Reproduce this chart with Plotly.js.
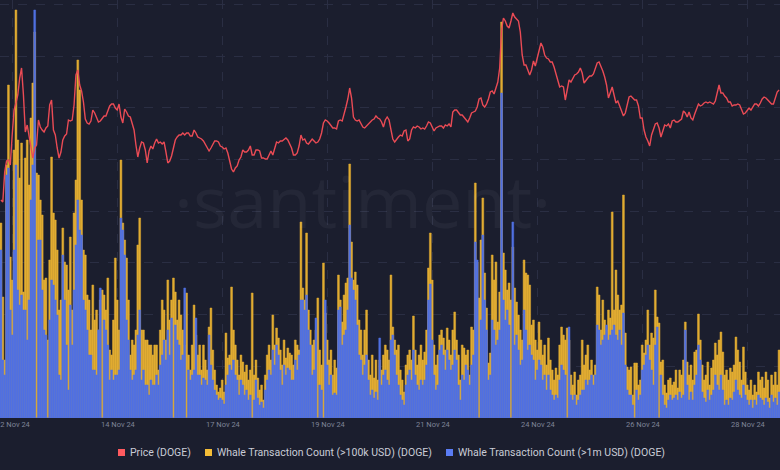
<!DOCTYPE html>
<html>
<head>
<meta charset="utf-8">
<script src="https://cdn.plot.ly/plotly-3.0.1.min.js"></script>
<style>
  html, body { margin: 0; padding: 0; background: #1b1e2e; }
  #chart { width: 780px; height: 470px; }
</style>
</head>
<body>
<div id="chart"></div>
<script>
// hourly DOGE price, ~12 Nov 24 -> 29 Nov 24
const priceDoge = [
  0.4000,0.3990,0.4140,0.4195,0.4200,0.4175,0.4325,0.4450,0.4485,0.4525,0.4610,0.4660,0.4525,0.4340,0.4375,0.4320,0.4250,0.4210,0.4260,0.4275,
  0.4400,0.4365,0.4350,0.4340,0.4360,0.4370,0.4475,0.4500,0.4350,0.4325,0.4260,0.4210,0.4240,0.4300,0.4320,0.4330,0.4400,0.4395,0.4400,0.4475,
  0.4625,0.4650,0.4575,0.4545,0.4490,0.4405,0.4385,0.4380,0.4395,0.4450,0.4435,0.4415,0.4390,0.4395,0.4405,0.4420,0.4420,0.4450,0.4470,0.4480,
  0.4480,0.4460,0.4450,0.4480,0.4415,0.4385,0.4455,0.4440,0.4420,0.4415,0.4385,0.4350,0.4275,0.4215,0.4260,0.4290,0.4285,0.4250,0.4185,0.4245,0.4270,0.4255,0.4285,
  0.4305,0.4285,0.4290,0.4280,0.4290,0.4240,0.4185,0.4195,0.4220,0.4260,0.4300,0.4315,0.4325,0.4325,0.4335,0.4325,0.4335,0.4335,0.4320,0.4320,
  0.4350,0.4335,0.4315,0.4310,0.4305,0.4295,0.4280,0.4265,0.4245,0.4260,0.4275,0.4295,0.4295,0.4290,0.4270,0.4265,0.4255,0.4260,0.4235,0.4185,
  0.4155,0.4140,0.4160,0.4170,0.4200,0.4215,0.4250,0.4240,0.4240,0.4250,0.4270,0.4225,0.4225,0.4250,0.4250,0.4245,0.4210,0.4210,0.4205,0.4205,
  0.4230,0.4245,0.4225,0.4255,0.4290,0.4285,0.4295,0.4295,0.4305,0.4310,0.4300,0.4280,0.4260,0.4225,0.4225,0.4235,0.4270,0.4325,0.4300,0.4305,0.4285,0.4280,0.4295,
  0.4305,0.4295,0.4285,0.4290,0.4305,0.4335,0.4385,0.4400,0.4395,0.4385,0.4370,0.4360,0.4360,0.4355,0.4395,0.4400,0.4395,0.4425,0.4465,0.4505,
  0.4560,0.4510,0.4415,0.4400,0.4395,0.4400,0.4380,0.4365,0.4360,0.4370,0.4385,0.4390,0.4400,0.4405,0.4420,0.4410,0.4405,0.4390,0.4365,0.4400,0.4415,0.4400,
  0.4345,0.4305,0.4290,0.4305,0.4315,0.4325,0.4320,0.4345,0.4350,0.4295,0.4305,0.4350,0.4365,0.4360,0.4370,0.4365,0.4355,0.4360,0.4355,0.4370,0.4390,0.4385,
  0.4360,0.4345,0.4360,0.4365,0.4370,0.4370,0.4360,0.4375,0.4370,0.4380,0.4365,0.4440,0.4450,0.4450,0.4440,0.4425,0.4425,0.4415,0.4405,0.4390,
  0.4410,0.4435,0.4440,0.4445,0.4465,0.4505,0.4510,0.4475,0.4465,0.4480,0.4505,0.4540,0.4545,0.4530,0.4560,0.4590,0.4660,0.4850,0.4910,0.4895,0.4870,0.4860,0.4895,
  0.4935,0.4915,0.4905,0.4895,0.4840,0.4725,0.4675,0.4675,0.4650,0.4625,0.4650,0.4695,0.4670,0.4710,0.4760,0.4785,0.4765,0.4725,0.4710,0.4705,0.4690,0.4690,0.4665,
  0.4630,0.4590,0.4565,0.4570,0.4565,0.4500,0.4560,0.4600,0.4590,0.4610,0.4625,0.4630,0.4640,0.4660,0.4635,0.4585,0.4600,0.4610,0.4620,0.4620,0.4630,0.4660,
  0.4685,0.4690,0.4670,0.4645,0.4615,0.4575,0.4510,0.4540,0.4565,0.4525,0.4485,0.4495,0.4470,0.4435,0.4420,
  0.4435,0.4480,0.4515,0.4520,0.4510,0.4500,0.4500,0.4470,0.4410,0.4410,0.4350,0.4315,0.4295,0.4270,0.4325,0.4355,0.4380,0.4385,0.4360,0.4315,
  0.4345,0.4375,0.4370,0.4380,0.4360,0.4395,0.4400,0.4390,0.4390,0.4400,0.4405,0.4445,0.4435,0.4415,0.4440,0.4410,0.4400,0.4430,0.4460,0.4480,0.4470,0.4475,
  0.4485,0.4490,0.4485,0.4490,0.4485,0.4480,0.4495,0.4535,0.4575,0.4535,0.4535,0.4520,0.4510,0.4490,0.4490,0.4470,0.4475,0.4475,0.4480,0.4475,0.4455,
  0.4430,0.4435,0.4450,0.4460,0.4450,0.4465,0.4480,0.4480,0.4470,0.4485,0.4505,0.4515,0.4510,0.4500,0.4490,0.4480,0.4480,0.4515,0.4540,0.4550
];

// whale transactions > 100k USD per hour
const whale100k = [
  195,121,58,253,333,161,138,268,408,278,240,275,126,260,278,233,300,335,386,
  245,243,218,203,138,140,78,158,261,205,198,168,108,118,190,156,153,128,181,108,205,238,
  358,328,218,168,163,123,118,88,133,98,108,88,118,128,123,108,140,68,63,98,160,118,88,
  258,195,178,160,118,63,78,73,88,173,200,88,88,78,78,73,73,63,73,
  73,48,88,118,108,78,138,98,118,140,126,98,118,103,88,73,125,63,48,73,113,83,63,73,48,73,58,48,
  91,110,68,48,33,26,30,38,26,85,60,63,131,88,73,58,43,63,56,46,53,38,48,125,43,58,40,28,33,18,
  43,63,73,58,103,73,90,80,68,53,78,60,70,65,63,53,78,73,68,196,130,118,185,108,88,
  73,78,88,120,68,53,155,105,78,58,68,43,58,50,143,118,96,123,135,140,
  254,176,138,146,133,98,88,63,88,108,58,43,63,40,58,38,58,48,63,73,68,58,
  143,91,78,68,73,48,38,26,53,63,68,58,102,68,53,63,73,58,66,88,150,185,138,
  73,53,63,83,88,80,68,90,78,63,88,106,78,63,38,73,70,63,68,
  43,91,88,235,156,120,178,220,145,110,55,65,163,138,156,96,126,396,165,148,128,135,118,
  171,130,116,103,88,78,158,145,143,133,93,98,78,68,96,78,63,73,53,80,58,48,38,
  50,43,73,91,83,78,90,78,43,33,46,23,38,43,78,53,63,73,48,58,43,53,
  131,123,88,118,98,88,108,100,206,108,148,123,108,113,223,
  85,51,48,51,23,55,55,33,38,73,65,78,108,73,85,80,128,101,95,56,
  58,33,25,38,40,33,36,48,30,48,43,58,96,56,43,53,38,66,68,104,78,53,
  38,43,56,33,50,58,75,63,78,86,66,43,48,38,50,46,53,81,68,56,38,
  71,46,33,28,38,23,33,26,46,38,41,30,46,38,20,43,33,46,33,68
];

// whale transactions > 1m USD per hour
const whale1m = [
  168,58,43,243,250,108,83,168,253,128,113,123,108,108,78,118,218,253,408,
  0,178,178,128,88,83,0,98,138,133,118,103,43,38,163,118,73,28,113,73,128,173,
  218,188,183,118,108,88,63,63,48,48,43,88,130,0,98,88,73,38,48,38,43,43,48,
  200,188,163,98,78,48,38,43,48,83,108,38,48,33,33,23,38,33,33,
  43,33,53,63,78,58,88,63,100,0,93,78,73,58,63,130,0,48,38,43,48,100,43,43,33,40,38,33,
  83,53,38,28,23,18,20,18,14,33,43,53,48,58,43,38,23,38,33,23,28,18,23,0,18,38,20,13,16,10,
  28,38,48,43,68,53,73,63,48,33,53,43,50,48,38,38,58,48,63,118,118,108,123,88,73,
  43,48,100,0,33,28,0,118,53,33,43,23,25,23,108,111,73,83,88,108,
  193,140,128,118,93,63,58,43,53,63,38,23,28,20,26,18,80,33,43,48,38,33,
  78,83,63,43,33,23,18,13,33,43,48,38,68,43,33,28,38,33,38,53,118,134,78,
  43,28,33,68,73,63,48,68,58,48,53,68,58,33,18,43,38,53,48,
  33,53,63,176,158,0,98,183,118,88,38,43,98,88,73,78,88,325,118,98,108,93,0,
  196,73,83,68,53,58,108,88,68,73,63,58,38,48,58,53,38,43,28,43,28,23,18,
  23,20,38,53,48,43,0,91,23,18,23,13,18,23,28,28,38,33,38,43,33,43,
  93,88,73,78,83,93,78,83,88,93,83,78,88,73,105,
  53,28,23,23,13,0,28,18,23,48,53,63,73,58,48,33,73,91,0,43,
  23,13,10,18,23,18,20,23,18,26,20,23,88,33,18,26,18,33,43,73,58,26,
  20,16,28,18,23,28,43,33,28,43,28,13,18,13,20,18,26,38,28,23,20,
  33,23,18,13,18,10,18,13,23,20,18,13,20,16,10,23,16,20,13,26
];

const tickHours = [6.4, 62.4, 118.4, 174.4, 230.4, 286.4, 342.4, 398.4];
const tickLabels = ["12 Nov 24", "14 Nov 24", "17 Nov 24", "19 Nov 24", "21 Nov 24", "24 Nov 24", "26 Nov 24", "28 Nov 24"];
const seriesNames = ["Price (DOGE)", "Whale Transaction Count (>100k USD) (DOGE)", "Whale Transaction Count (>1m USD) (DOGE)"];

const W = 780, H = 470, PLOT_H = 418;
const COUNT_MAX = 418;
const BG = "#1b1e2e";
const GRID = "#2a2e43";
const lineColors = ["#ea4b55", "#e2ad32", "#5070e2"];
const legendSwatch = ["#ff5a5f", "#f4bd37", "#5a7cf4"];
// legend: swatch left edge / text left edge in px
const legendPx = [[118, 128], [205, 215], [446, 456]];

const hours = priceDoge.map((_, i) => i);

// thin outline in the fill colour closes the sub-pixel gaps between bars
const traces = [
  { type: "bar", x: hours, y: whale100k, name: seriesNames[1],
    marker: { color: lineColors[1], line: { width: 0.5, color: lineColors[1] } } },
  { type: "bar", x: hours, y: whale1m, name: seriesNames[2],
    marker: { color: lineColors[2], line: { width: 0.5, color: lineColors[2] } } },
  { type: "scatter", mode: "lines", x: hours, y: priceDoge, yaxis: "y2", name: seriesNames[0],
    line: { color: lineColors[0], width: 1.4 } }
];

const px2x = (px) => px / W;
const py2y = (py) => (PLOT_H - py) / PLOT_H;

const shapes = legendPx.map((p, i) => ({
  type: "rect", xref: "paper", yref: "paper",
  x0: px2x(p[0]), x1: px2x(p[0] + 7), y0: py2y(456), y1: py2y(449),
  fillcolor: legendSwatch[i], line: { width: 0 }
}));

const annotations = legendPx.map((p, i) => ({
  text: seriesNames[i], xref: "paper", yref: "paper",
  x: px2x(p[1]), y: py2y(452.5), xanchor: "left", yanchor: "middle",
  showarrow: false, font: { size: 10.5, color: "#c9ccd6" }
}));

annotations.push({
  text: "·santiment·", xref: "paper", yref: "paper",
  x: px2x(362), y: py2y(200), xanchor: "center", yanchor: "middle",
  showarrow: false,
  font: { family: "'Open Sans', sans-serif", size: 72, color: "rgba(255,255,255,0.045)" }
});

const layout = {
  width: W, height: H,
  margin: { l: 0, r: 0, t: 0, b: H - PLOT_H, pad: 0 },
  paper_bgcolor: BG, plot_bgcolor: BG,
  showlegend: false,
  barmode: "overlay",
  bargap: 0.02,
  font: { family: "Roboto, 'Open Sans', sans-serif", color: "#c9ccd6" },
  xaxis: {
    range: [-0.5, hours.length - 0.5],
    tickmode: "array", tickvals: tickHours, ticktext: tickLabels,
    tickfont: { size: 7.5, color: "#7f8498" },
    ticks: "", showline: false, zeroline: false,
    showgrid: true, gridcolor: GRID, griddash: "dash", gridwidth: 1,
    ticklabeloverflow: "allow"
  },
  yaxis: {
    range: [0, COUNT_MAX], tick0: 0, dtick: 51.7,
    showticklabels: false, ticks: "", zeroline: false,
    showgrid: true, gridcolor: GRID, griddash: "dash"
  },
  yaxis2: { overlaying: "y", range: [0.291, 0.5], visible: false, showgrid: false },
  shapes, annotations
};

Plotly.newPlot("chart", traces, layout, { staticPlot: true, displayModeBar: false });
</script>
</body>
</html>
